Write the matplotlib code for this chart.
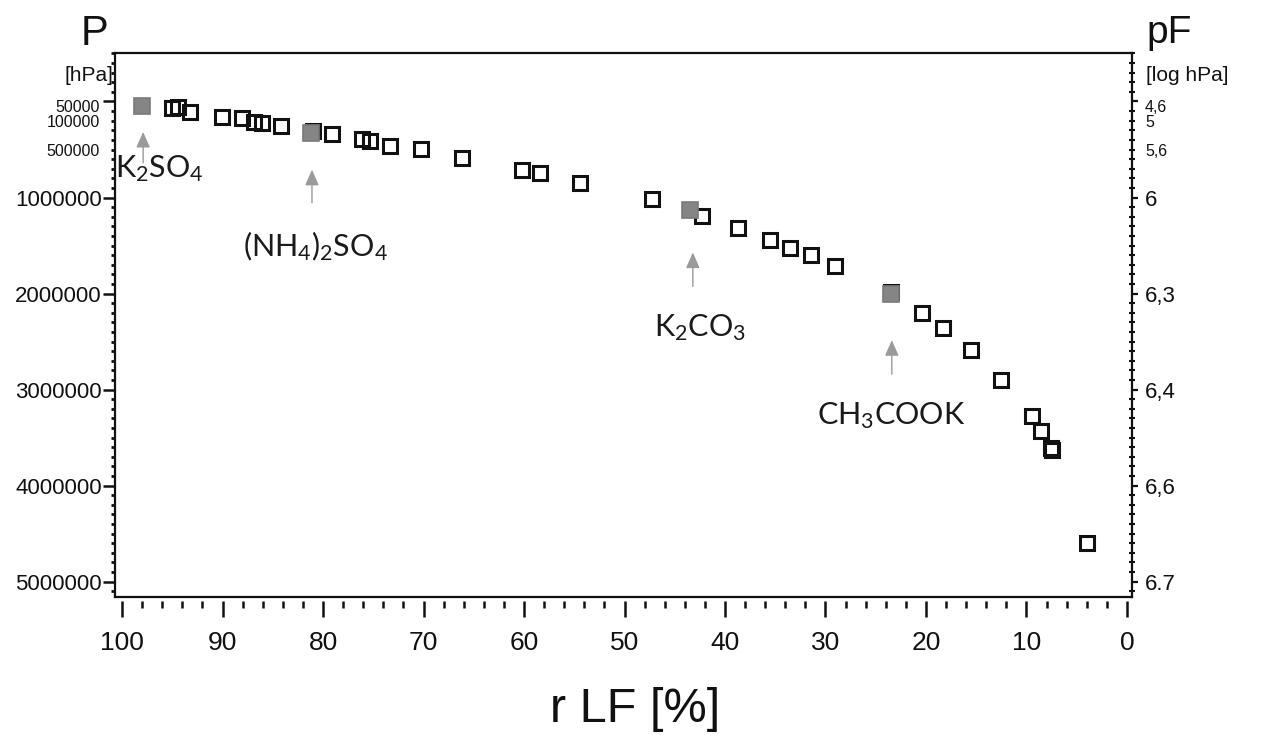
import matplotlib
matplotlib.use("Agg")
import matplotlib.pyplot as plt
import matplotlib.transforms as mtransforms
from matplotlib.patches import ArrowStyle
from matplotlib.ticker import MultipleLocator, FixedLocator

plt.rcParams["font.family"] = ["Liberation Sans", "DejaVu Sans"]
plt.rcParams["mathtext.default"] = "regular"

# measured points: relative humidity [%] vs. suction P [hPa]
rlf_open = [95.0, 94.4, 93.2, 90.1, 88.1, 86.9, 86.1, 84.2, 80.95, 79.1,
            76.1, 75.3, 73.3, 70.3, 66.2, 60.2, 58.4, 54.4, 47.3, 42.3,
            38.7, 35.5, 33.5, 31.4, 29.1, 23.5, 20.4, 18.3, 15.5, 12.5,
            9.5, 8.6, 7.6, 7.45, 4.0]
p_open = [67500, 57000, 109000, 161000, 171000, 213000, 223000, 251000, 306000, 337000,
          389000, 407000, 459000, 493000, 587000, 711000, 746000, 854000, 1012000, 1196000,
          1314000, 1441000, 1521000, 1597000, 1715000, 1989000, 2204000, 2359000, 2584000, 2899000,
          3276000, 3432000, 3609000, 3634000, 4598000]

# reference salts
salt_names = [r"K$_2$SO$_4$", r"(NH$_4$)$_2$SO$_4$", r"K$_2$CO$_3$", r"CH$_3$COOK"]
rlf_salt = [98.0, 81.2, 43.5, 23.5]
p_salt = [47000, 327000, 1134000, 2009000]

# annotation layout (arrow x, tip, tail; label x, baseline)
arrow_x = [97.9, 81.1, 43.2, 23.4]
arrow_tip = [317000, 711000, 1573000, 2486000]
arrow_tail = [639000, 1054000, 1926000, 2840000]
label_x = [96.3, 80.8, 42.5, 23.5]
label_y = [784000, 1615000, 2445000, 3359000]

p_major = [0, 1000000, 2000000, 3000000, 4000000, 5000000]
p_major_labels = ["", "1000000", "2000000", "3000000", "4000000", "5000000"]
pf_major_labels = ["", "6", "6,3", "6,4", "6,6", "6.7"]
top_label_pos = [60000, 222000, 519000]
p_top_labels = ["50000", "100000", "500000"]
pf_top_labels = ["4,6", "5", "5,6"]
rlf_ticks = list(range(0, 101, 10))

fig = plt.figure(figsize=(12.65, 7.35), dpi=100)
ax = fig.add_axes([115 / 1265, 138 / 735, 1017 / 1265, 543.7 / 735])

ax.plot(rlf_open, p_open, ls="none", marker="s", ms=10.5, mfc="none",
        mec="#111111", mew=2.2, zorder=3)
ax.plot(rlf_salt, p_salt, ls="none", marker="s", ms=11.5, mfc="#858585",
        mec="#7a7a7a", mew=1.2, zorder=4)

ax.set_xlim(100.7, -0.5)
ax.set_ylim(5161000, -502000)

for sp in ax.spines.values():
    sp.set_linewidth(1.6)
    sp.set_color("#111111")

# left P axis
ax.yaxis.set_major_locator(FixedLocator(p_major))
ax.set_yticklabels(p_major_labels)
ax.yaxis.set_minor_locator(MultipleLocator(100000))
ax.tick_params(axis="y", which="major", direction="out", length=8.5, width=1.8,
               labelsize=16, pad=1, colors="#111111")
ax.tick_params(axis="y", which="minor", direction="out", length=3, width=2.0, colors="#111111")
blend_l = mtransforms.blended_transform_factory(ax.transAxes, ax.transData)
for pos, lab in zip(top_label_pos, p_top_labels):
    ax.text(-0.0147, pos, lab, transform=blend_l, ha="right", va="center",
            fontsize=11.5, color="#111111")

# bottom axis drawn slightly below the frame
ax.tick_params(axis="x", which="both", bottom=False, labelbottom=False)
secx = ax.secondary_xaxis(-0.007)
secx.spines["bottom"].set_visible(False)
secx.set_xticks(rlf_ticks)
secx.xaxis.set_minor_locator(MultipleLocator(2))
secx.tick_params(axis="x", which="major", direction="out", length=11.5, width=1.8,
                 labelsize=19, pad=10, colors="#111111")
secx.tick_params(axis="x", which="minor", direction="out", length=5, width=1.8, colors="#111111")

# right pF axis
ax2 = ax.twinx()
ax2.set_ylim(ax.get_ylim())
ax2.yaxis.set_major_locator(FixedLocator(p_major))
ax2.set_yticklabels(pf_major_labels)
ax2.yaxis.set_minor_locator(MultipleLocator(100000))
ax2.tick_params(axis="y", which="major", direction="out", length=4.5, width=1.6,
                labelsize=16, pad=5, colors="#111111")
ax2.tick_params(axis="y", which="minor", direction="inout", length=4, width=1.5, colors="#111111")
for sp in ax2.spines.values():
    sp.set_visible(False)
blend_r = mtransforms.blended_transform_factory(ax2.transAxes, ax2.transData)
for pos, lab in zip(top_label_pos, pf_top_labels):
    ax2.text(1.0128, pos, lab, transform=blend_r, ha="left", va="center",
             fontsize=11.5, color="#111111")

# salt annotations
astyle = ArrowStyle("-|>", head_length=0.95, head_width=0.42)
for ax_x, tip, tail, lx, ly, name in zip(arrow_x, arrow_tip, arrow_tail, label_x, label_y, salt_names):
    ax.annotate("", xy=(ax_x, tip), xytext=(ax_x, tail),
                arrowprops=dict(arrowstyle=astyle, color="#9a9a9a", lw=1.0,
                                shrinkA=0, shrinkB=0, mutation_scale=10))
    ax.text(lx, ly, name, ha="center", va="baseline", fontsize=22,
            family=["Lato", "DejaVu Sans"], fontweight="normal", color="#1a1a1a")

# axis titles
fig.text(94 / 1265, (735 - 45) / 735, "P", ha="center", va="baseline", fontsize=30, color="#111111")
fig.text(113 / 1265, (735 - 81) / 735, "[hPa]", ha="right", va="baseline", fontsize=15, color="#111111")
fig.text(1146 / 1265, (735 - 43) / 735, "pF", ha="left", va="baseline", fontsize=28, color="#111111")
fig.text(1146 / 1265, (735 - 81) / 735, "[log hPa]", ha="left", va="baseline", fontsize=15, color="#111111")
fig.text(635 / 1265, (735 - 710) / 735, "r LF [%]", ha="center", va="center", fontsize=35, color="#111111")

fig.savefig("out.png", dpi=100)
